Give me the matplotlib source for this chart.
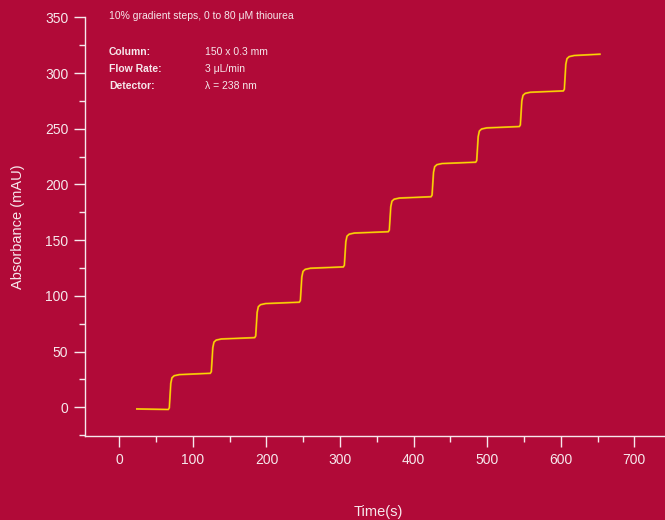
import matplotlib
matplotlib.use('Agg')
import matplotlib.pyplot as plt
from matplotlib.ticker import MultipleLocator

# trace: time (s) and absorbance (mAU)
time_s = [
    22.7, 66.6,
    68.0, 70.0, 71.6, 74.6, 81.6, 123.7,
    125.1, 127.1, 128.7, 131.7, 138.7, 184.0,
    185.4, 187.4, 189.0, 192.0, 199.0, 244.7,
    246.1, 248.1, 249.7, 252.7, 259.7, 304.5,
    305.9, 307.9, 309.5, 312.5, 319.5, 365.6,
    367.0, 369.0, 370.6, 373.6, 380.6, 423.7,
    425.1, 427.1, 428.7, 431.7, 438.7, 484.4,
    485.8, 487.8, 489.4, 492.4, 499.4, 543.7,
    545.1, 547.1, 548.7, 551.7, 558.7, 603.5,
    604.9, 606.9, 608.5, 611.5, 618.5, 654.3,
]
absorbance = [
    -1.5, -2.0,
    -0.5, 21.5, 26.5, 28.3, 29.3, 30.5,
    32.0, 53.5, 58.5, 60.3, 61.3, 62.5,
    64.0, 85.3, 90.3, 92.1, 93.1, 94.3,
    95.8, 117.0, 122.0, 123.8, 124.8, 126.0,
    127.5, 148.6, 153.6, 155.4, 156.4, 157.6,
    159.1, 180.0, 185.0, 186.8, 187.8, 189.0,
    190.5, 211.0, 216.0, 217.8, 218.8, 220.0,
    221.5, 243.0, 248.0, 249.8, 250.8, 252.0,
    253.5, 275.0, 280.0, 281.8, 282.8, 284.0,
    285.5, 308.0, 313.0, 314.8, 315.8, 317.0,
]

x_ticks = [0, 100, 200, 300, 400, 500, 600, 700]
y_ticks = [0, 50, 100, 150, 200, 250, 300, 350]

info_labels = ['Column:', 'Flow Rate:', 'Detector:']
info_values = ['150 x 0.3 mm', '3 \u03bcL/min', '\u03bb = 238 nm']

bg = '#B10A38'
fg = '#F6E8EC'

plt.rcParams['font.family'] = ['Liberation Sans', 'DejaVu Sans']

fig = plt.figure(figsize=(6.65, 5.2), dpi=100, facecolor=bg)
ax = fig.add_axes([85/665, 1 - 436/520, 580/665, (436 - 17.4)/520], facecolor=bg)

ax.plot(time_s, absorbance, color='#E0901A', lw=1.4, solid_capstyle='butt')
ax.plot(time_s, absorbance, color='#FFDF00', lw=0.7, solid_capstyle='butt')

ax.set_xlim(-46.6, 741.7)
ax.set_ylim(-25.8, 350)

for s in ['top', 'right']:
    ax.spines[s].set_visible(False)
for s in ['left', 'bottom']:
    ax.spines[s].set_color(fg)
    ax.spines[s].set_linewidth(1.0)

ax.set_xticks(x_ticks)
ax.set_yticks(y_ticks)
ax.xaxis.set_minor_locator(MultipleLocator(50))
ax.yaxis.set_minor_locator(MultipleLocator(25))
ax.tick_params(which='major', length=8, width=1, color=fg, labelcolor=fg, labelsize=10)
ax.tick_params(which='minor', length=4, width=1, color=fg)
ax.tick_params(axis='x', which='major', pad=4)
ax.tick_params(axis='y', which='major', pad=4)

ax.set_xlabel('Time(s)', color=fg, fontsize=10.5)
ax.xaxis.set_label_coords((378 - 85)/580, -(512 - 436)/418.6)
ax.xaxis.label.set_va('center')
ax.set_ylabel('Absorbance (mAU)', color=fg, fontsize=10.5)
ax.yaxis.set_label_coords((18 - 85)/580, 0.5)
ax.yaxis.label.set_va('center')

fig.text(109/665, 1 - 16/520, '10% gradient steps, 0 to 80 \u03bcM thiourea',
         color=fg, fontsize=7.5, va='center')
for i, (lab, val) in enumerate(zip(info_labels, info_values)):
    y = 1 - (51.7 + 17.2*i)/520
    fig.text(109/665, y, lab, color=fg, fontsize=7.5, fontweight='bold', va='center')
    fig.text(205.5/665, y, val, color=fg, fontsize=7.5, va='center')

fig.savefig('out.png', dpi=100, facecolor=bg)
